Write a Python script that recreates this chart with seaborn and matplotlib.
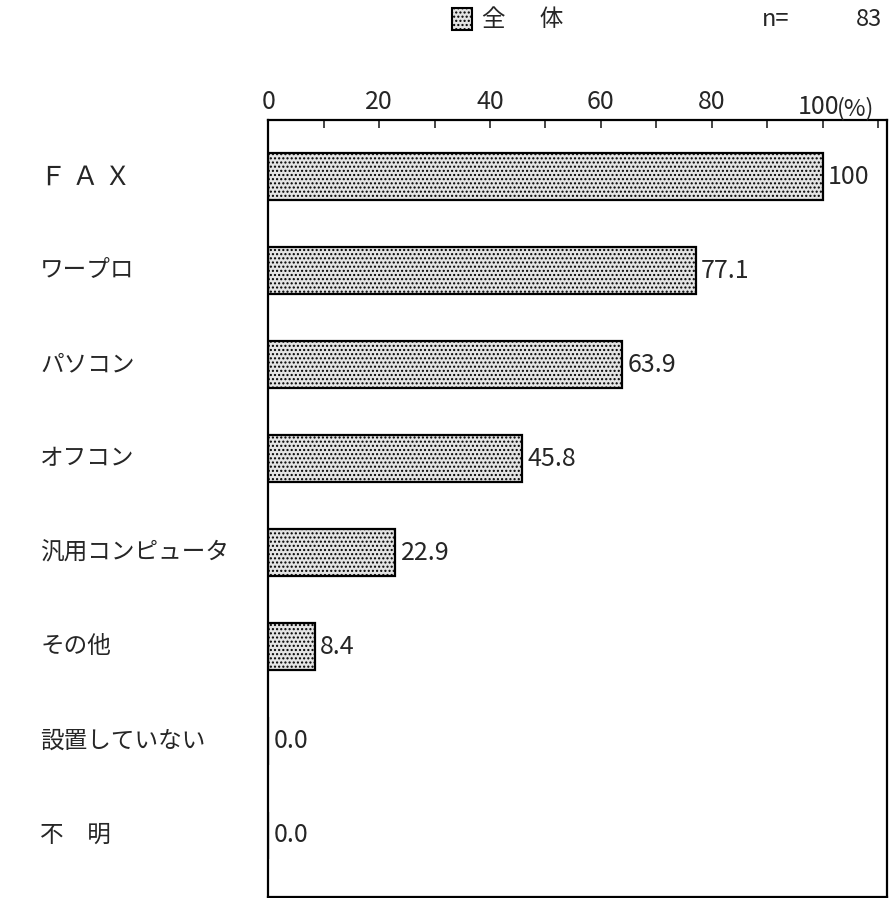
import matplotlib
matplotlib.use("Agg")
import matplotlib.pyplot as plt
import seaborn as sns

# 設置している機器 (全体 n=83)
labels = ["Ｆ Ａ Ｘ", "ワープロ", "パソコン", "オフコン", "汎用コンピュータ", "その他", "設置していない", "不　明"]
values = [100, 77.1, 63.9, 45.8, 22.9, 8.4, 0.0, 0.0]
value_text = ["100", "77.1", "63.9", "45.8", "22.9", "8.4", "0.0", "0.0"]
ticks = [0, 20, 40, 60, 80, 100]
tick_labels = ["0", "20", "40", "60", "80", ""]
legend_label = "全 　 体"
n_label = "n="
n_value = "83"

sns.set_style("white")
plt.rcParams["font.family"] = ["Noto Sans CJK JP", "DejaVu Sans"]
plt.rcParams["hatch.color"] = "#444444"
plt.rcParams["hatch.linewidth"] = 1.0

fig = plt.figure(figsize=(8.91, 8.98), dpi=100)
ax = fig.add_axes([0.301, 0.001, 0.695, 0.865])

sns.barplot(x=values, y=labels, orient="h", color="#e4e4e4", width=0.5,
            edgecolor="black", linewidth=1.6, ax=ax)
for p in ax.patches:
    p.set_hatch("....")

ax.set_xlim(0, 111.7)
ax.set_ylim(7.66, -0.6)

# top axis
ax.xaxis.tick_top()
ax.set_xticks(ticks)
ax.set_xticklabels(tick_labels)
ax.set_xticks(range(0, 111, 10), minor=True)
ax.tick_params(axis="x", which="both", direction="in", length=6, width=1.2,
               labelsize=18, pad=4, top=True, bottom=False)
ax.text(95.6, 1.0, "100", transform=ax.get_xaxis_transform(), fontsize=18,
        va="bottom", ha="left")
ax.text(102.6, 1.0, "(%)", transform=ax.get_xaxis_transform(), fontsize=17,
        va="bottom", ha="left")

ax.set_yticks([])
ax.set_ylabel("")
for s in ax.spines.values():
    s.set_linewidth(1.6)
    s.set_color("black")

# category labels at left
for i, lab in enumerate(labels):
    size = 19 if i == 0 else 17
    ax.text(-0.368, i, lab, transform=ax.get_yaxis_transform(), fontsize=size,
            va="center", ha="left")

# value labels
for i, (v, t) in enumerate(zip(values, value_text)):
    ax.text(v + 1.0, i, t, fontsize=18, va="center", ha="left")

# legend at top
fig.patches.append(plt.Rectangle((452 / 891, 1 - 30 / 898), 20 / 891, 22 / 898,
                                 transform=fig.transFigure, facecolor="#e4e4e4",
                                 edgecolor="black", linewidth=1.5, hatch="...."))
fig.text(482 / 891, 1 - 20 / 898, legend_label, fontsize=17, va="center", ha="left")
fig.text(762 / 891, 1 - 20 / 898, n_label, fontsize=17, va="center", ha="left")
fig.text(882 / 891, 1 - 20 / 898, n_value, fontsize=17, va="center", ha="right")

fig.savefig("out.png", dpi=100)
